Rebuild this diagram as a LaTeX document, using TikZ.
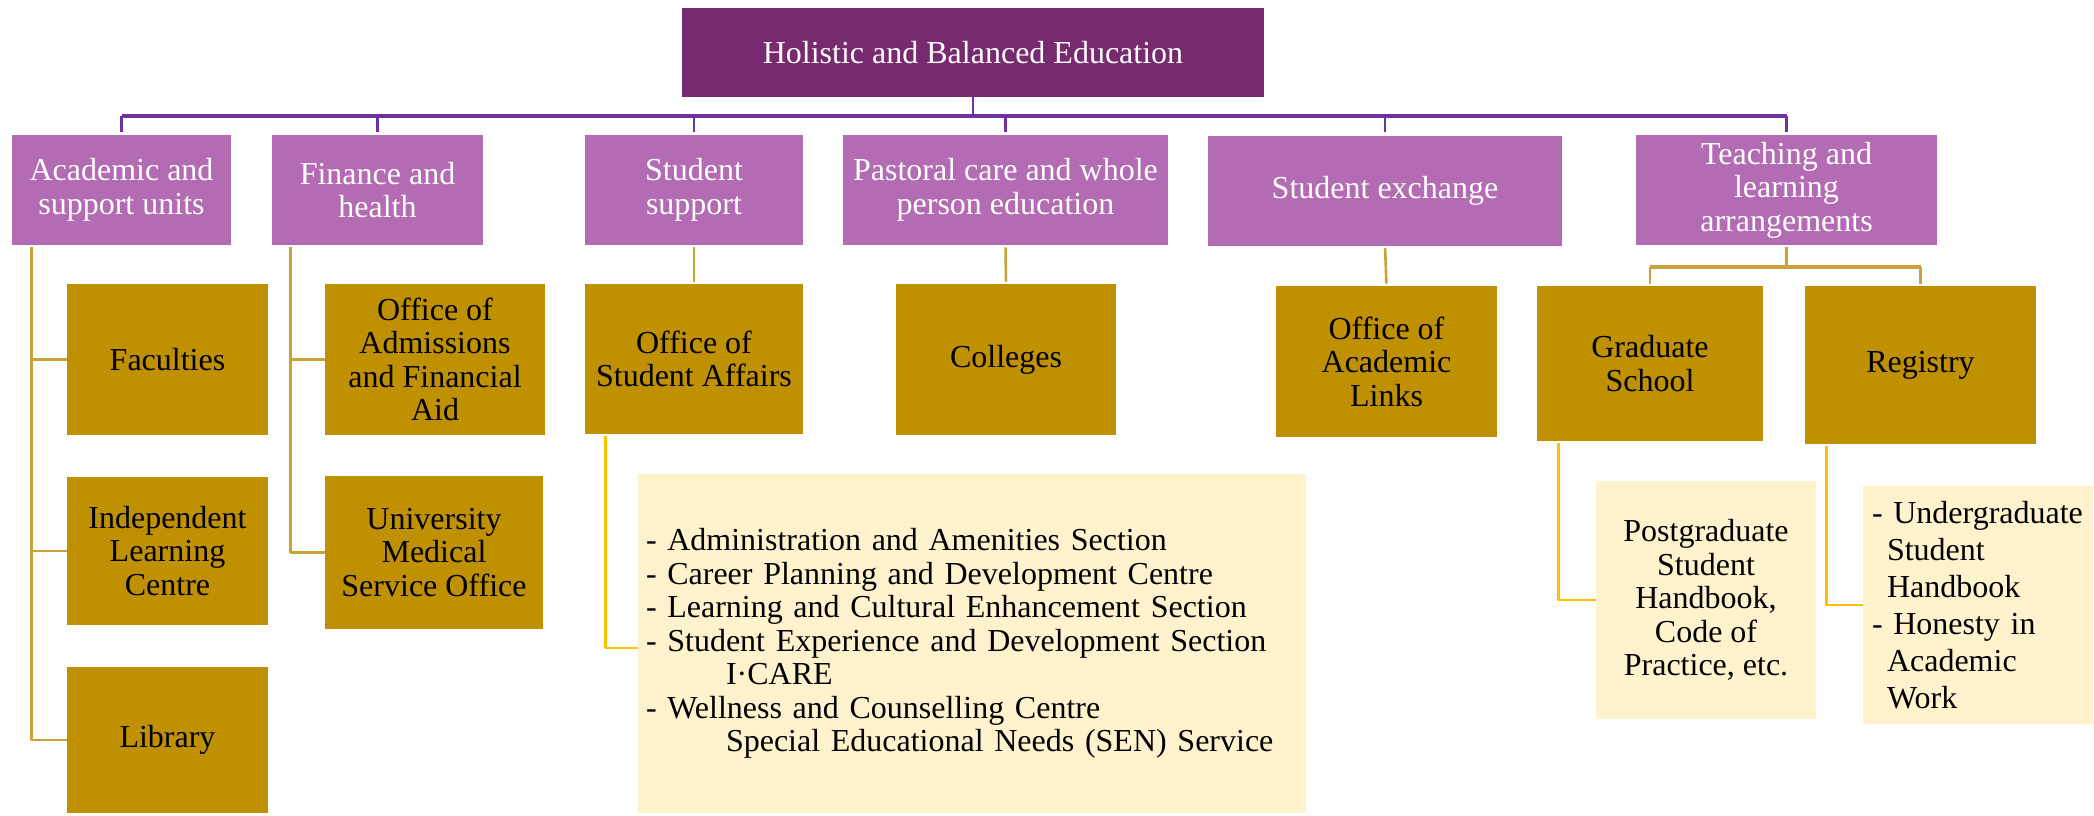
\documentclass[tikz,border=0pt]{standalone}
\usepackage{fontspec}
\setmainfont{Liberation Serif}
\usetikzlibrary{calc}
\definecolor{rootpurple}{HTML}{772A6F}
\definecolor{unitpurple}{HTML}{B36BB3}
\definecolor{buspurple}{HTML}{7030A0}
\definecolor{officegold}{HTML}{BF9000}
\definecolor{linegold}{HTML}{C9A23A}
\definecolor{noteyellow}{HTML}{FFF2CC}
\definecolor{linkyellow}{HTML}{FFC000}
\begin{document}
\begin{tikzpicture}[x=0.5pt,y=-0.5pt,
	font=\fontsize{16pt}{16.75pt}\selectfont, line join=round,
	rootbox/.style={fill=rootpurple,text=white,inner sep=0pt,align=center},
	unitbox/.style={fill=unitpurple,text=white,inner sep=0pt,align=center,minimum height=55pt},
	officebox/.style={fill=officegold,text=black,inner sep=0pt,align=center},
	notebox/.style={fill=noteyellow,text=black,inner sep=0pt},
	busline/.style={draw=buspurple,line width=1.4pt},
	goldline/.style={draw=linegold,line width=1.3pt},
	linkline/.style={draw=linkyellow,line width=1.3pt}]
	\useasboundingbox (0,0) rectangle (2094,815);
	% top
	\node[rootbox,minimum width=291pt,minimum height=44.5pt] (root) at (973,52.5) {Holistic and Balanced Education};
	% units
	\node[unitbox,minimum width=109.5pt] (acad) at (121.5,190) {Academic and\\support units};
	\node[unitbox,minimum width=105.5pt] (fin) at (377.5,190) {Finance and\\health};
	\node[unitbox,minimum width=109pt] (stud) at (694,190) {Student\\support};
	\node[unitbox,minimum width=162.5pt] (past) at (1005.5,190) {Pastoral care and whole\\person education};
	\node[unitbox,minimum width=177pt] (exch) at (1385,190.5) {Student exchange};
	\node[unitbox,minimum width=150.5pt] (teach) at (1786.5,190) {Teaching and\\learning\\arrangements};
	% offices
	\node[officebox,minimum width=100.5pt,minimum height=75.5pt] (fac) at (167.5,359.5) {Faculties};
	\node[officebox,minimum width=100.5pt,minimum height=74pt] (ilc) at (167.5,551) {Independent\\Learning\\Centre};
	\node[officebox,minimum width=100.5pt,minimum height=73pt] (lib) at (167.5,740) {Library};
	\node[officebox,minimum width=110pt,minimum height=75.5pt] (adm) at (435,359.5) {Office of\\Admissions\\and Financial\\Aid};
	\node[officebox,minimum width=109pt,minimum height=76.5pt] (med) at (434,552.5) {University\\Medical\\Service Office};
	\node[officebox,minimum width=109pt,minimum height=75pt] (osa) at (694,359) {Office of\\Student Affairs};
	\node[officebox,minimum width=110pt,minimum height=75.5pt] (coll) at (1006,359.5) {Colleges};
	\node[officebox,minimum width=110.5pt,minimum height=75.5pt] (oal) at (1386.5,361.5) {Office of\\Academic\\Links};
	\node[officebox,minimum width=113pt,minimum height=77.5pt] (grad) at (1650,363.5) {Graduate\\School};
	\node[officebox,minimum width=115.5pt,minimum height=79pt] (reg) at (1920.5,365) {Registry};
	% notes
	\node[notebox,minimum height=169.5pt,text width=326pt,inner xsep=4pt,align=left] (osanote) at (972,643.5)
		{- Administration and Amenities Section\\- Career Planning and Development Centre\\- Learning and Cultural Enhancement Section\\- Student Experience and Development Section\\\hspace*{40pt}I·CARE\\- Wellness and Counselling Centre\\\hspace*{40pt}Special Educational Needs (SEN) Service};
	\node[notebox,minimum width=110pt,minimum height=119pt,align=center] (pgnote) at (1706,600)
		{Postgraduate\\Student\\Handbook,\\Code of\\Practice, etc.};
	\node[notebox,minimum height=119pt,text width=106pt,inner xsep=4.5pt,align=left,font=\fontsize{16pt}{18.5pt}\selectfont] (ugnote) at (1978,605)
		{- Undergraduate\\\hspace*{7.5pt}Student\\\hspace*{7.5pt}Handbook\\- Honesty in\\\hspace*{7.5pt}Academic\\\hspace*{7.5pt}Work};
	% purple bus
	\coordinate (bus) at (0,116);
	\draw[busline] (root.south) -- (root.south |- bus);
	\draw[busline,line width=1.8pt] (acad.north |- bus) -- (teach.north |- bus);
	\foreach \u in {acad,fin,stud,past,exch,teach}
		\draw[busline,shorten >=1.5pt] (\u.north |- bus) -- (\u.north);
	% gold links
	\coordinate (acadspine) at ([xshift=10pt,yshift=-1pt]acad.south west);
	\draw[goldline] (acadspine) |- (lib.west);
	\draw[goldline] (acadspine |- fac.west) -- (fac.west);
	\draw[goldline] (acadspine |- ilc.west) -- (ilc.west);
	\coordinate (finspine) at ([xshift=9.5pt,yshift=-1pt]fin.south west);
	\draw[goldline] (finspine) |- (med.west);
	\draw[goldline] (finspine |- adm.west) -- (adm.west);
	\draw[goldline,shorten <=1pt,shorten >=1pt] (stud.south) -- (osa.north);
	\draw[goldline,shorten <=1pt,shorten >=1pt] (past.south) -- (coll.north);
	\draw[goldline,shorten <=1pt,shorten >=1pt] (exch.south) -- (oal.north);
	\coordinate (teachfork) at (0,267);
	\draw[goldline,shorten <=1pt] (teach.south) -- (teach.south |- teachfork);
	\draw[goldline,line width=1.8pt] (grad.north |- teachfork) -- (reg.north |- teachfork);
	\draw[goldline,shorten >=1pt] (grad.north |- teachfork) -- (grad.north);
	\draw[goldline,shorten >=1pt] (reg.north |- teachfork) -- (reg.north);
	% yellow links
	\draw[linkline] ([xshift=10.5pt,yshift=-1pt]osa.south west) |- ([yshift=-2.25pt]osanote.west);
	\draw[linkline] ([xshift=11pt,yshift=-1pt]grad.south west) |- (pgnote.west);
	\draw[linkline] ([xshift=11pt,yshift=-1pt]reg.south west) |- (ugnote.west);
\end{tikzpicture}
\end{document}
